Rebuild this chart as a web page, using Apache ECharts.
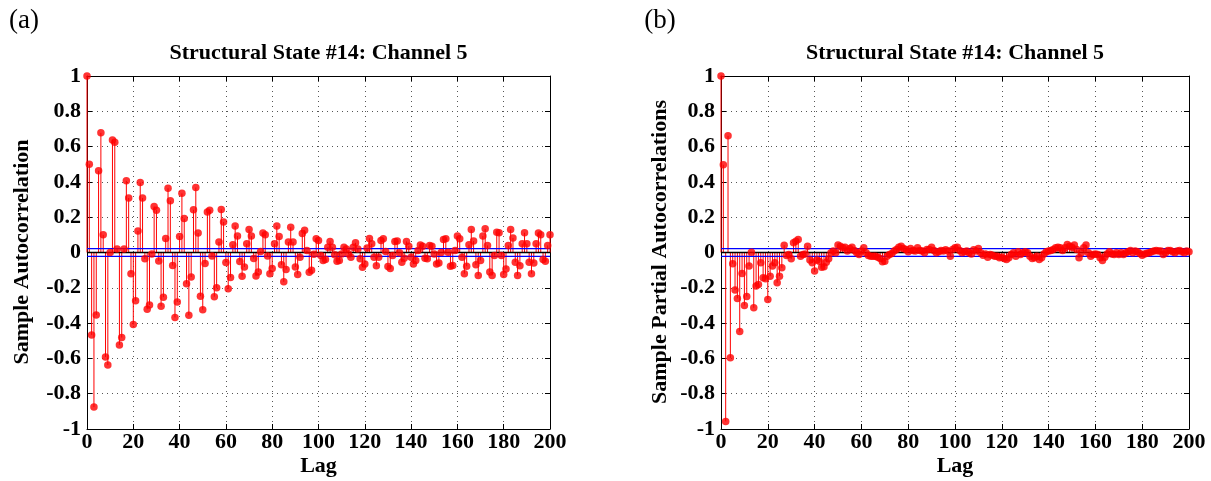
<!DOCTYPE html>
<html><head><meta charset="utf-8">
<script src="https://cdn.jsdelivr.net/npm/echarts@6/dist/echarts.min.js"></script>
<style>html,body{margin:0;padding:0;background:#fff}#c{width:1211px;height:481px}</style>
</head><body><div id="c"></div>
<script>
// ---- data ----
const acfValues = [
 1.0, 0.5, -0.467, -0.876, -0.354, 0.463, 0.678, 0.10, -0.592, -0.638,
 0.0, 0.638, 0.625, 0.02, -0.524, -0.482, 0.02, 0.406, 0.309, -0.12,
 -0.408, -0.274, 0.122, 0.396, 0.309, -0.036, -0.322, -0.297, -0.008, 0.261,
 0.24, -0.048, -0.305, -0.253, 0.08, 0.364, 0.293, -0.074, -0.368, -0.28,
 0.09, 0.335, 0.192, -0.177, -0.356, -0.139, 0.242, 0.368, 0.11, -0.248,
 -0.324, -0.063, 0.23, 0.24, -0.02, -0.25, -0.2, 0.06, 0.244, 0.173,
 -0.057, -0.206, -0.141, 0.044, 0.15, 0.093, -0.051, -0.135, -0.082, 0.05,
 0.13, 0.093, -0.034, -0.133, -0.11, 0.006, 0.11, 0.1, -0.02, -0.12,
 -0.09, 0.05, 0.15, 0.09, -0.07, -0.166, -0.097, 0.06, 0.143, 0.06,
 -0.082, -0.124, -0.027, 0.108, 0.126, 0.011, -0.112, -0.10, -0.01, 0.078,
 0.068, -0.017, -0.045, -0.04, 0.03, 0.063, 0.03, -0.013, -0.05, -0.045,
 -0.008, 0.03, 0.02, -0.008, -0.027, 0.03, 0.055, 0.02, -0.036, -0.083,
 -0.065, 0.025, 0.08, 0.05, -0.027, -0.075, -0.027, 0.068, 0.078, 0.006,
 -0.08, -0.09, -0.017, 0.063, 0.065, -0.002, -0.055, -0.033, 0.063, 0.036,
 -0.027, -0.065, -0.045, 0.011, 0.043, 0.036, -0.033, -0.036, 0.04, 0.036,
 -0.008, -0.065, -0.06, 0.0, 0.074, 0.078, 0.002, -0.078, -0.074, 0.011,
 0.093, 0.078, -0.027, -0.12, -0.078, 0.044, 0.13, 0.065, -0.07, -0.13,
 -0.045, 0.093, 0.134, 0.04, -0.11, -0.13, -0.017, 0.115, 0.112, -0.017,
 -0.125, -0.093, 0.04, 0.13, 0.082, -0.055, -0.13, -0.075, 0.05, 0.112,
 0.05, -0.055, -0.12, -0.06, 0.05, 0.11, 0.1, -0.04, -0.05, 0.04,
 0.1
];
const pacfValues = [
 1.0, 0.497, -0.957, 0.661, -0.597, -0.064, -0.213, -0.26, -0.448, -0.119,
 -0.30, -0.249, -0.077, 0.002, -0.313, -0.19, -0.181, -0.058, -0.143, -0.149,
 -0.266, -0.134, -0.077, -0.058, -0.171, -0.134, -0.087, 0.041, -0.017, -0.011,
 -0.036, 0.055, 0.064, 0.073, -0.021, -0.011, -0.008, 0.036, -0.043, -0.058,
 -0.105, -0.043, -0.049, -0.083, -0.081, -0.055, -0.036, -0.002, 0.008, -0.002,
 0.042, 0.036, 0.027, 0.03, 0.008, 0.023, 0.03, 0.011, -0.002, -0.011,
 0.008, 0.027, -0.002, -0.017, -0.021, -0.021, -0.021, -0.027, -0.034, -0.053,
 -0.049, -0.021, -0.011, -0.006, 0.008, 0.017, 0.03, 0.036, 0.023, 0.017,
 0.004, 0.023, 0.011, 0.008, 0.027, 0.011, 0.008, -0.002, 0.017, 0.017,
 0.03, 0.011, -0.002, 0.004, 0.011, 0.008, 0.015, 0.008, -0.021, 0.017,
 0.027, 0.03, 0.011, -0.002, 0.004, 0.008, -0.002, -0.008, 0.015, 0.008,
 0.023, -0.002, -0.015, -0.008, -0.027, -0.011, -0.015, -0.021, -0.021, -0.03,
 -0.027, -0.034, -0.04, -0.03, -0.011, -0.002, -0.021, 0.004, -0.011, -0.002,
 0.004, -0.002, -0.021, -0.034, -0.03, -0.021, -0.04, -0.03, -0.008, 0.004,
 0.008, 0.011, 0.017, 0.027, 0.03, 0.027, 0.011, 0.027, 0.045, 0.036,
 0.03, 0.042, 0.017, -0.03, -0.002, 0.027, 0.042, -0.002, -0.021, -0.011,
 -0.008, -0.011, -0.03, -0.045, -0.027, -0.008, 0.004, -0.008, -0.011, -0.002,
 -0.011, -0.002, -0.011, -0.002, 0.004, 0.011, -0.002, 0.008, 0.004, -0.006,
 -0.015, -0.008, -0.004, -0.002, 0.004, 0.008, 0.011, 0.008, 0.008, -0.011,
 -0.002, 0.011, 0.011, 0.004, -0.002, 0.008, 0.011, 0.004, -0.002, 0.008,
 0.004
];
const confBound = 0.022;
const lagRange = [0, 200];
const yRange = [-1, 1];
const titleText = 'Structural State #14: Channel 5';
const panelLabels = ['(a)', '(b)'];
const yNames = ['Sample Autocorrelation', 'Sample Partial Autocorrelations'];
const xName = 'Lag';

// ---- layout ----
const FONT = '"Liberation Serif","Times New Roman",serif';
const grids = [
  {left: 87, top: 76, width: 463, height: 353},
  {left: 721, top: 76, width: 468, height: 353}
];
const chart = echarts.init(document.getElementById('c'), null, {renderer: 'canvas'});

function axesFor(i) {
  const lab = {fontFamily: FONT, fontWeight: 'bold', fontSize: 22, color: '#000'};
  const xs = [
    {gridIndex: i, type: 'value', min: lagRange[0], max: lagRange[1], interval: 20,
     axisLine: {onZero: false, lineStyle: {color: '#000', width: 1}},
     axisTick: {inside: true, length: 5, lineStyle: {color: '#000'}},
     axisLabel: Object.assign({margin: 2}, lab),
     splitLine: {show: true, lineStyle: {type: [1, 4], color: '#555', width: 1}}},
    {gridIndex: i, type: 'value', position: 'top', min: lagRange[0], max: lagRange[1], interval: 20,
     axisLine: {onZero: false, lineStyle: {color: '#000'}},
     axisTick: {inside: true, length: 5, lineStyle: {color: '#000'}},
     axisLabel: {show: false}, splitLine: {show: false}}
  ];
  const ys = [
    {gridIndex: i, type: 'value', min: yRange[0], max: yRange[1], interval: 0.2,
     axisLine: {onZero: false, lineStyle: {color: '#000'}},
     axisTick: {inside: true, length: 5, lineStyle: {color: '#000'}},
     axisLabel: Object.assign({margin: 6, formatter: v => String(Math.round(v * 10) / 10)}, lab),
     splitLine: {show: true, lineStyle: {type: [1, 4], color: '#555', width: 1}}},
    {gridIndex: i, type: 'value', position: 'right', min: yRange[0], max: yRange[1], interval: 0.2,
     axisLine: {onZero: false, lineStyle: {color: '#000'}},
     axisTick: {inside: true, length: 5, lineStyle: {color: '#000'}},
     axisLabel: {show: false}, splitLine: {show: false}}
  ];
  return {xs, ys};
}
const a0 = axesFor(0), a1 = axesFor(1);

function stemSeries(values, idx) {
  const pts = values.map((v, i) => [i, v]);
  return [
    {type: 'custom', xAxisIndex: idx * 2, yAxisIndex: idx * 2, data: pts, z: 3, silent: true,
     renderItem: (params, api) => {
       const p0 = api.coord([api.value(0), 0]);
       const p1 = api.coord([api.value(0), api.value(1)]);
       return {type: 'line', shape: {x1: p0[0], y1: p0[1], x2: p1[0], y2: p1[1]},
               style: {stroke: '#ff0000', lineWidth: 1}};
     }},
    {type: 'line', xAxisIndex: idx * 2, yAxisIndex: idx * 2, data: [[lagRange[0], 0], [lagRange[1], 0]],
     symbol: 'none', lineStyle: {color: '#000', width: 1.5}, z: 4, silent: true},
    {type: 'line', xAxisIndex: idx * 2, yAxisIndex: idx * 2, data: [[lagRange[0], confBound], [lagRange[1], confBound]],
     symbol: 'none', lineStyle: {color: '#0000ff', width: 1.2}, z: 5, silent: true},
    {type: 'line', xAxisIndex: idx * 2, yAxisIndex: idx * 2, data: [[lagRange[0], -confBound], [lagRange[1], -confBound]],
     symbol: 'none', lineStyle: {color: '#0000ff', width: 1.2}, z: 5, silent: true},
    {type: 'scatter', xAxisIndex: idx * 2, yAxisIndex: idx * 2, data: pts, symbol: 'circle', symbolSize: 7.5,
     itemStyle: {color: '#ff0000'}, z: 6, silent: true}
  ];
}

function txt(text, x, y, size, bold, rot) {
  return {type: 'text', x: x, y: y, rotation: rot || 0,
    style: {text: text, font: (bold ? 'bold ' : '') + size + 'px ' + FONT, fill: '#000',
            align: 'center', verticalAlign: 'middle', textAlign: 'center', textVerticalAlign: 'middle'}};
}
const cx0 = grids[0].left + grids[0].width / 2, cx1 = grids[1].left + grids[1].width / 2;

chart.setOption({
  animation: false,
  backgroundColor: '#fff',
  grid: grids.map(g => Object.assign({containLabel: false}, g)),
  xAxis: a0.xs.concat(a1.xs),
  yAxis: a0.ys.concat(a1.ys),
  series: stemSeries(acfValues, 0).concat(stemSeries(pacfValues, 1)),
  graphic: [
    txt(panelLabels[0], 24, 21, 27, false),
    txt(panelLabels[1], 660, 21, 27, false),
    txt(titleText, cx0, 53, 22, true),
    txt(titleText, cx1, 53, 22, true),
    txt(xName, cx0, 466, 22, true),
    txt(xName, cx1, 466, 22, true),
    txt(yNames[0], 22, 252, 22, true, Math.PI / 2),
    txt(yNames[1], 660, 252, 22, true, Math.PI / 2)
  ]
});
</script></body></html>
